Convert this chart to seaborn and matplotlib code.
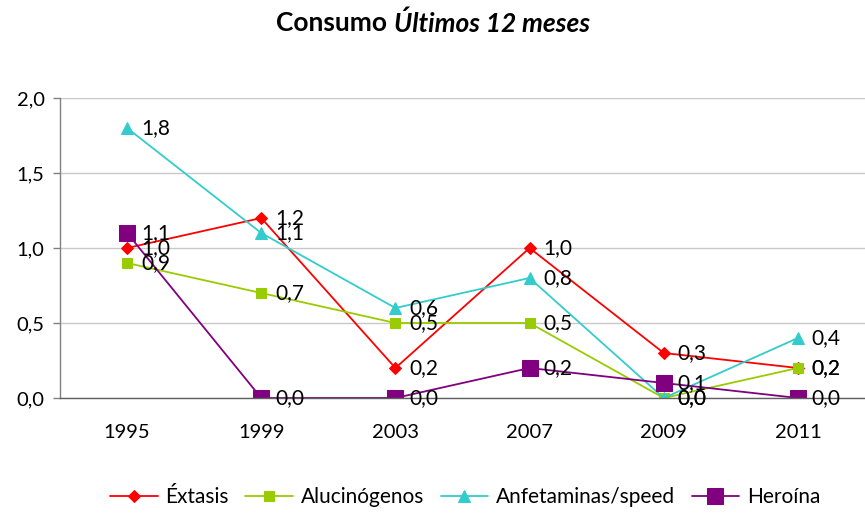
import matplotlib
matplotlib.use("Agg")
import matplotlib.pyplot as plt
import seaborn as sns
import pandas as pd
import numpy as np

years = ["1995", "1999", "2003", "2007", "2009", "2011"]
extasis = [1.0, 1.2, 0.2, 1.0, 0.3, 0.2]
alucinogenos = [0.9, 0.7, 0.5, 0.5, 0.0, 0.2]
anfetaminas = [1.8, 1.1, 0.6, 0.8, 0.0, 0.4]
heroina = [1.1, 0.0, 0.0, 0.2, 0.1, 0.0]

series_names = ["Éxtasis", "Alucinógenos", "Anfetaminas/speed", "Heroína"]
series_values = [extasis, alucinogenos, anfetaminas, heroina]
colors = ["#FF0000", "#99CC00", "#33CCCC", "#800080"]
markers = ["D", "s", "^", "s"]
msizes = [6.5, 7, 8, 11]

sns.set_theme(style="white")
plt.rcParams["font.family"] = ["Lato", "DejaVu Sans"]
plt.rcParams["text.color"] = "black"
plt.rcParams["xtick.color"] = "black"
plt.rcParams["ytick.color"] = "black"

W, H = 865, 516
fig = plt.figure(figsize=(W / 100, H / 100), dpi=100)
ax = fig.add_axes([60 / W, 1 - 398 / H, 1 - 60 / W, 300 / H])

pos = np.arange(len(years))
for name, vals, c, m, ms in zip(series_names, series_values, colors, markers, msizes):
    df = pd.DataFrame({"x": pos, "y": vals})
    sns.lineplot(data=df, x="x", y="y", ax=ax, color=c, marker=m, markersize=ms,
                 markeredgecolor=c, linewidth=1.3, label=name)
    for xi, v in zip(pos, vals):
        ax.annotate(f"{v:.1f}".replace(".", ","), (xi, v), xytext=(10, 0),
                    textcoords="offset points", va="center", ha="left",
                    fontsize=15, color="black")

ax.set_xlim(-0.5, len(years) - 0.5)
ax.set_ylim(0, 2.0)
ax.set_xticks(pos)
ax.set_xticklabels(years, fontsize=14.5)
ax.set_xticks(np.arange(-0.5, len(years)), minor=True)
ax.tick_params(axis="x", which="major", length=0, pad=19, labelcolor="black")
ax.tick_params(axis="x", which="minor", length=5, width=1, color="#808080", direction="out")
yt = np.arange(0, 2.01, 0.5)
ax.set_yticks(yt)
ax.set_yticklabels([f"{v:.1f}".replace(".", ",") for v in yt], fontsize=14.5)
ax.tick_params(axis="y", length=5, width=1, color="#808080", labelcolor="black",
               direction="out", left=True, pad=6)
ax.yaxis.grid(True, color="#C8C8C8", linewidth=1)
ax.set_axisbelow(True)
ax.set_xlabel("")
ax.set_ylabel("")
for s in ["top", "right"]:
    ax.spines[s].set_visible(False)
ax.spines["left"].set_color("#808080")
ax.spines["bottom"].set_color("#606060")
for s in ["left", "bottom"]:
    ax.spines[s].set_linewidth(1)

leg = ax.legend(loc="center", bbox_to_anchor=(465 / W, 1 - 497 / H), bbox_transform=fig.transFigure,
                ncol=4, frameon=False, fontsize=15, handlelength=2.3, columnspacing=0.8,
                handletextpad=0.35, borderaxespad=0)
for txt in leg.get_texts():
    txt.set_color("black")

# Title: bold prefix followed by bold-italic part
fig.canvas.draw()
r = fig.canvas.get_renderer()
ty = 1 - 23 / H
t1 = fig.text(0, ty, "Consumo ", fontsize=19, fontweight="bold", va="center", ha="left",
              color="black")
t2 = fig.text(0, ty, "Últimos 12 meses", fontsize=19, fontweight="bold",
              fontstyle="italic", va="center", ha="left", color="black")
w1 = t1.get_window_extent(r).width
w2 = t2.get_window_extent(r).width
x0 = 433 - (w1 + w2) / 2
t1.set_x(x0 / W)
t2.set_x((x0 + w1) / W)

fig.savefig("out.png", dpi=100)
